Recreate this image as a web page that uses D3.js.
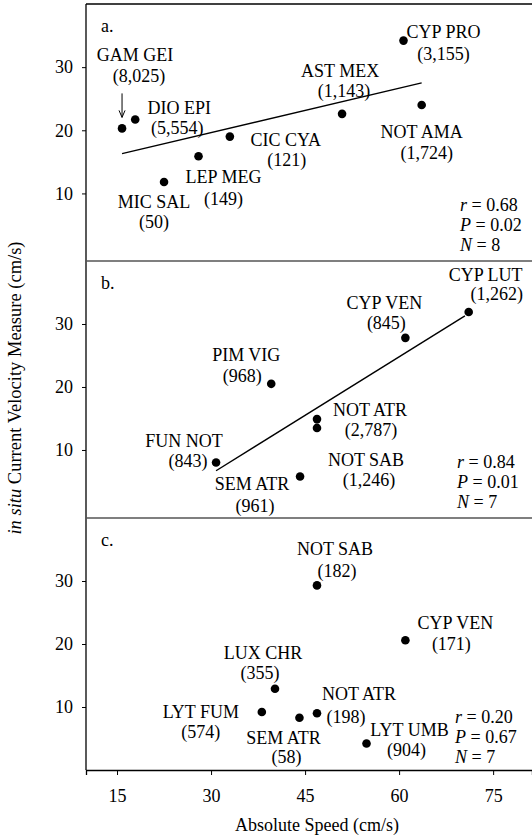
<!DOCTYPE html>
<html>
<head>
<meta charset="utf-8">
<script src="https://cdn.jsdelivr.net/npm/d3@7"></script>
<style>
  body { margin: 0; background: #fff; }
  svg text { font-family: "Liberation Serif", "Times New Roman", serif; fill: #000; }
</style>
</head>
<body>
<svg id="chart" width="532" height="837"></svg>
<script>
// axis ticks
const xTicks = [15, 30, 45, 60, 75]
const yTicks = [10, 20, 30]

// panel a
const namesA = ["GAM GEI", "DIO EPI", "MIC SAL", "LEP MEG", "CIC CYA", "AST MEX", "CYP PRO", "NOT AMA"]
const countsA = ["(8,025)", "(5,554)", "(50)", "(149)", "(121)", "(1,143)", "(3,155)", "(1,724)"]
const speedA = [15.8, 17.9, 22.5, 28.0, 33.0, 50.9, 60.7, 63.6]
const velA = [20.3, 21.7, 11.8, 15.9, 19.0, 22.6, 34.2, 24.0]
const fitSpeedA = [15.8, 63.6]
const fitVelA = [16.3, 27.5]
const statsA = ["0.68", "0.02", "8"]

// panel b
const namesB = ["FUN NOT", "PIM VIG", "CYP VEN", "CYP LUT", "NOT ATR", "NOT SAB", "SEM ATR"]
const countsB = ["(843)", "(968)", "(845)", "(1,262)", "(2,787)", "(1,246)", "(961)"]
const speedB = [30.8, 39.6, 61.0, 71.1, 46.9, 46.9, 44.2]
const velB = [8.0, 20.5, 27.8, 31.9, 14.9, 13.5, 5.8]
const fitSpeedB = [30.8, 70.5]
const fitVelB = [6.7, 31.3]
const statsB = ["0.84", "0.01", "7"]

// panel c
const namesC = ["NOT SAB", "CYP VEN", "LUX CHR", "LYT FUM", "SEM ATR", "NOT ATR", "LYT UMB"]
const countsC = ["(182)", "(171)", "(355)", "(574)", "(58)", "(198)", "(904)"]
const speedC = [46.9, 61.0, 40.2, 38.1, 44.1, 46.9, 54.8]
const velC = [29.3, 20.6, 12.9, 9.2, 8.3, 9.0, 4.2]
const statsC = ["0.20", "0.67", "7"]

// label placement, pixels from the dot: [name dx, name dy, count dx, count dy]
const labelPosA = [[13, -73, 17, -52], [44, -12, 42, 8], [-10, 20, -10, 40], [25, 21, 25, 43],
  [56, 3, 57, 23], [-2, -43, 2, -23], [40, -9, 40, 13], [0, 27, 5, 48]]
const labelPosB = [[-32, -22, -28, -2], [-25, -29, -29, -8], [-21, -35, -19, -15], [17, -37, 28, -18],
  [53, -9, 54, 11], [49, 32, 52, 52], [-48, 8, -45, 30]]
const labelPosC = [[18, -36, 20, -14], [50, -17, 46, 4], [-12, -36, -15, -16], [-61, 0, -61, 20],
  [-16, 20, -13, 39], [42, -19, 29, 4], [43, -14, 40, 6]]

const left = 86, right = 532
const fontSize = 18

const panels = [
  {id: "a.", names: namesA, counts: countsA, xs: speedA, ys: velA, fitX: fitSpeedA, fitY: fitVelA,
   stats: statsA, pos: labelPosA, top: 4, bottom: 261, yMin: -0.7, statY: 205, statX: 460},
  {id: "b.", names: namesB, counts: countsB, xs: speedB, ys: velB, fitX: fitSpeedB, fitY: fitVelB,
   stats: statsB, pos: labelPosB, top: 261, bottom: 518, yMin: -0.8, statY: 462, statX: 457},
  {id: "c.", names: namesC, counts: countsC, xs: speedC, ys: velC, fitX: null, fitY: null,
   stats: statsC, pos: labelPosC, top: 518, bottom: 770, yMin: 0, statY: 717, statX: 455}
]

const svg = d3.select("#chart")

const x = d3.scaleLinear().domain([10.05, 81.2]).range([left, right])

panels.forEach(function (p, pi) {
  const y = d3.scaleLinear().domain([p.yMin, 40]).range([p.bottom, p.top])
  const g = svg.append("g").attr("font-size", fontSize)

  // left axis with outward ticks
  const yAxis = g.append("g")
    .attr("transform", "translate(" + left + ",0)")
    .call(d3.axisLeft(y).tickValues(yTicks).tickSize(4).tickPadding(9).tickFormat(d3.format("d")))
  yAxis.select(".domain").remove()
  yAxis.selectAll("text").attr("font-size", fontSize)

  // panel letter
  g.append("text")
    .attr("x", left + 15).attr("y", p.top + 28)
    .text(p.id)

  // fit line
  if (p.fitX) {
    g.append("line")
      .attr("x1", x(p.fitX[0])).attr("y1", y(p.fitY[0]))
      .attr("x2", x(p.fitX[1])).attr("y2", y(p.fitY[1]))
      .attr("stroke", "#000").attr("stroke-width", 1.4)
  }

  // dots
  g.selectAll("circle.dot")
    .data(p.xs)
    .enter().append("circle")
    .attr("class", "dot")
    .attr("cx", function (d) { return x(d) })
    .attr("cy", function (d, i) { return y(p.ys[i]) })
    .attr("r", 4.3)
    .attr("fill", "#000")

  // labels: name and count
  p.names.forEach(function (name, i) {
    const cx = x(p.xs[i]), cy = y(p.ys[i])
    const o = p.pos[i]
    g.append("text")
      .attr("x", cx + o[0]).attr("y", cy + o[1])
      .attr("text-anchor", "middle").attr("dominant-baseline", "central")
      .text(name)
    g.append("text")
      .attr("x", cx + o[2]).attr("y", cy + o[3])
      .attr("text-anchor", "middle").attr("dominant-baseline", "central")
      .text(p.counts[i])
  })

  // stats
  const statNames = ["r", "P", "N"]
  statNames.forEach(function (s, i) {
    const t = g.append("text")
      .attr("x", p.statX).attr("y", p.statY + i * 20)
      .attr("dominant-baseline", "central")
    t.append("tspan").attr("font-style", "italic").text(s)
    t.append("tspan").text(" = " + p.stats[i])
  })
})

// arrow pointing at GAM GEI
const yA = d3.scaleLinear().domain([panels[0].yMin, 40]).range([panels[0].bottom, panels[0].top])
const ax = x(speedA[0]), ay = yA(velA[0])
svg.append("line")
  .attr("x1", ax).attr("y1", ay - 35).attr("x2", ax).attr("y2", ay - 11)
  .attr("stroke", "#000").attr("stroke-width", 1)
svg.append("path")
  .attr("d", "M" + (ax - 3) + "," + (ay - 18) + "L" + ax + "," + (ay - 11) + "L" + (ax + 3) + "," + (ay - 18))
  .attr("fill", "none").attr("stroke", "#000").attr("stroke-width", 1)

// frame: top, left axis, panel separators, bottom axis
svg.append("line").attr("x1", left).attr("x2", right).attr("y1", 4).attr("y2", 4)
  .attr("stroke", "#000").attr("stroke-width", 1.3)
svg.append("line").attr("x1", left).attr("x2", left).attr("y1", 4).attr("y2", 770)
  .attr("stroke", "#000").attr("stroke-width", 1.3)
svg.selectAll("line.sep")
  .data([panels[0].bottom, panels[1].bottom])
  .enter().append("line")
  .attr("class", "sep")
  .attr("x1", left).attr("x2", right)
  .attr("y1", function (d) { return d }).attr("y2", function (d) { return d })
  .attr("stroke", "#555").attr("stroke-width", 1.3)

const xAxis = svg.append("g")
  .attr("transform", "translate(0,770)")
  .call(d3.axisBottom(x).tickValues(xTicks).tickSize(5).tickPadding(14))
xAxis.select(".domain").attr("stroke-width", 1.3)
xAxis.selectAll("text").attr("font-size", fontSize)

// axis titles
svg.append("text")
  .attr("x", 317).attr("y", 825)
  .attr("text-anchor", "middle").attr("dominant-baseline", "central")
  .attr("font-size", fontSize)
  .text("Absolute Speed (cm/s)")

const yTitle = svg.append("text")
  .attr("transform", "translate(15,388) rotate(-90)")
  .attr("text-anchor", "middle").attr("dominant-baseline", "central")
  .attr("font-size", 18.5)
yTitle.append("tspan").attr("font-style", "italic").text("in situ")
yTitle.append("tspan").text(" Current Velocity Measure (cm/s)")
</script>
</body>
</html>
